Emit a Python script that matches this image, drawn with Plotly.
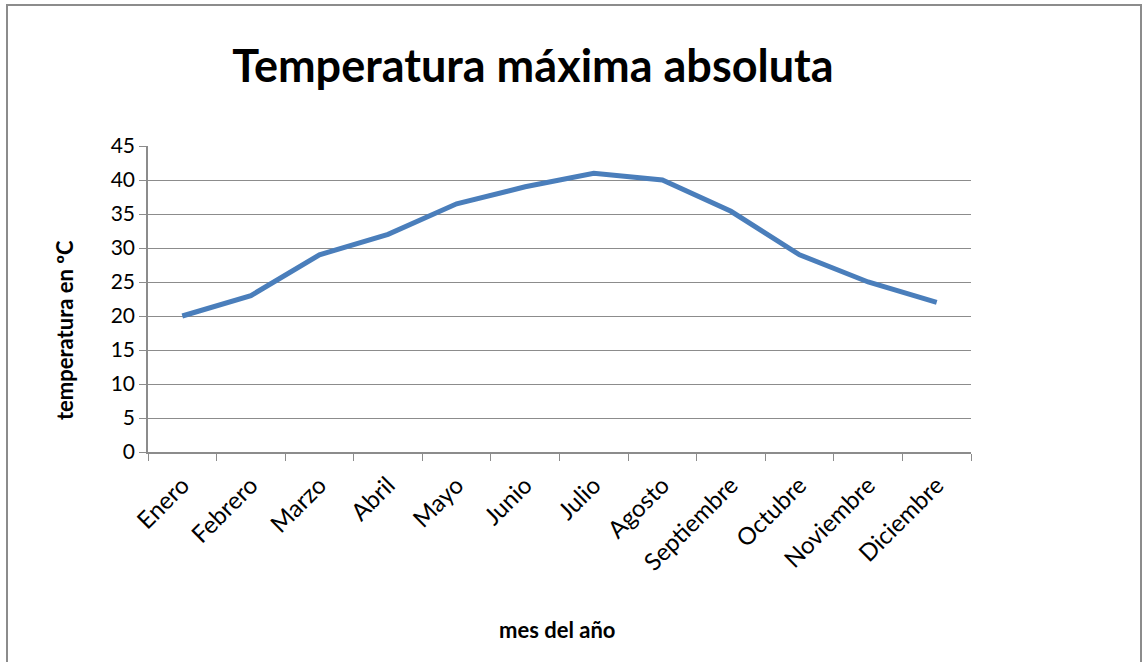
import plotly.graph_objects as go

meses = ["Enero", "Febrero", "Marzo", "Abril", "Mayo", "Junio", "Julio",
         "Agosto", "Septiembre", "Octubre", "Noviembre", "Diciembre"]
temp_max = [20, 23, 29, 32, 36.5, 39, 41, 40, 35.4, 29, 25, 22]
y_ticks = [0, 5, 10, 15, 20, 25, 30, 35, 40, 45]

font_family = "Lato, 'Open Sans', sans-serif"
gris = "#8c8c8c"

fig = go.Figure()

fig.add_trace(go.Scatter(
    x=meses,
    y=temp_max,
    mode="lines",
    line=dict(color="#4a7ebb", width=5),
    showlegend=False
))

fig.update_layout(
    width=1143,
    height=662,
    paper_bgcolor="white",
    plot_bgcolor="white",
    margin=dict(l=148, r=172, t=146, b=210),
    font=dict(family=font_family, color="black"),
    title=dict(
        text="<b>Temperatura máxima absoluta</b>",
        font=dict(size=45, family=font_family, color="black"),
        x=533 / 1143,
        xanchor="center",
        xref="container",
        y=1 - 66 / 662,
        yanchor="middle",
        yref="container"
    )
)

fig.update_xaxes(
    type="category",
    range=[-0.5, 11.5],
    tickangle=-45,
    tickfont=dict(size=24),
    ticklabelstandoff=8,
    ticks="outside",
    tickson="boundaries",
    ticklen=7,
    tickcolor=gris,
    showline=True,
    linecolor=gris,
    linewidth=1.5,
    showgrid=False,
    zeroline=False
)

fig.update_yaxes(
    range=[0, 45],
    tickvals=y_ticks,
    tickfont=dict(size=21),
    ticks="outside",
    ticklen=7,
    tickcolor=gris,
    showline=True,
    linecolor=gris,
    linewidth=1.5,
    showgrid=True,
    gridcolor=gris,
    gridwidth=1.2,
    zeroline=False
)

fig.add_annotation(
    text="<b>temperatura en ºC</b>",
    xref="paper", yref="paper",
    x=(64 - 148) / 823, y=(452 - 330) / 306,
    xanchor="center", yanchor="middle",
    textangle=-90,
    showarrow=False,
    font=dict(size=22, family=font_family)
)

fig.add_annotation(
    text="<b>mes del año</b>",
    xref="paper", yref="paper",
    x=(557 - 148) / 823, y=(452 - 629) / 306,
    xanchor="center", yanchor="middle",
    showarrow=False,
    font=dict(size=22, family=font_family)
)

# marco del gráfico
fig.add_shape(
    type="rect",
    xref="paper", yref="paper",
    x0=(7 - 148) / 823, x1=(1141 - 148) / 823,
    y0=-0.75, y1=(452 - 5) / 306,
    line=dict(color=gris, width=2)
)

fig.write_html(
    "out.html",
    config={"displayModeBar": False},
    post_script="document.body.style.margin='0';"
)
